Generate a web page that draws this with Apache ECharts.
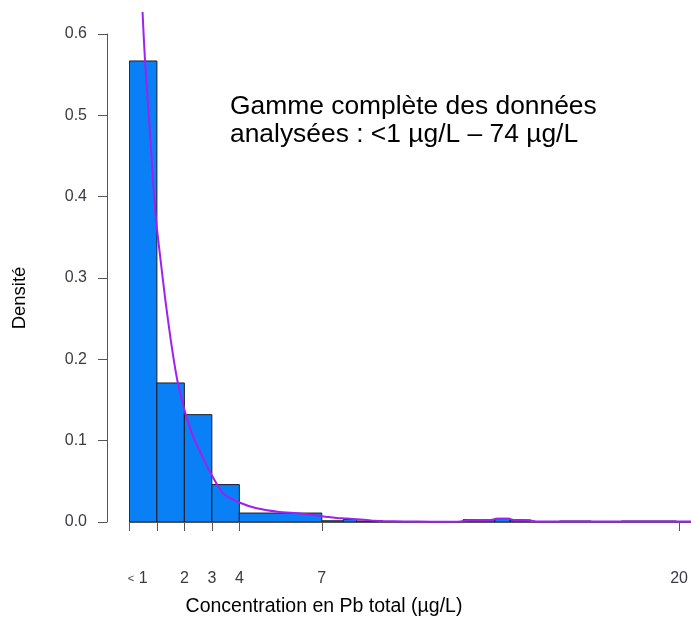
<!DOCTYPE html>
<html>
<head>
<meta charset="utf-8">
<script src="https://cdn.jsdelivr.net/npm/echarts@6/dist/echarts.min.js"></script>
<style>
  html, body { margin: 0; padding: 0; background: #fff; }
  #chart { width: 691px; height: 624px; }
</style>
</head>
<body>
<div id="chart"></div>
<script>
// Histogram bins (µg/L) and their densities
const binStart = [0, 1, 2, 3, 4, 7, 7.78, 8.27, 12.14, 13.3, 13.85, 15.65, 17.9, 19.9];
const binEnd   = [1, 2, 3, 4, 7, 7.78, 8.27, 9.23, 13.3, 13.85, 14.6, 16.8, 19.9, 22];
const binDensity = [0.567, 0.171, 0.132, 0.046, 0.011, 0.0015, 0.003, 0.0012, 0.0028, 0.0045, 0.0025, 0.0012, 0.0012, 0.0005];

// Fitted density curve
const curveX = [0.44, 0.48, 0.567, 0.75, 0.87, 0.97, 1.09, 1.3, 1.5, 1.74, 2.02, 2.32, 2.69, 2.99, 3.41, 4.0, 4.63, 5.4, 6.1, 6.6, 7.0, 7.4, 7.78, 8.27, 8.8, 9.23, 10, 11, 12, 12.3, 13.1, 13.4, 13.8, 14.0, 14.5, 14.8, 16, 18, 20.5];
const curveY = [0.67, 0.626, 0.568, 0.478, 0.412, 0.371, 0.335, 0.275, 0.225, 0.175, 0.136, 0.105, 0.078, 0.058, 0.035, 0.024, 0.017, 0.0127, 0.0107, 0.009, 0.0072, 0.0056, 0.0045, 0.0033, 0.002, 0.0012, 0.0006, 0.0004, 0.0005, 0.0022, 0.0025, 0.004, 0.004, 0.0025, 0.0022, 0.0006, 0.0005, 0.0005, 0.0005];

// Axis ticks
const xTickValues = [0, 1, 2, 3, 4, 7, 20];
const xLabelValues = [0.3, 2, 3, 4, 7, 20];
const xLabelTexts = ['{s|<} 1', '2', '3', '4', '7', '20'];

const FONT = "'Liberation Sans', Arial, sans-serif";
const AXIS_COLOR = '#555';
const LABEL_COLOR = '#3a3a44';

const bars = binStart.map((s, i) => [s, binEnd[i], binDensity[i]]);
const curve = curveX.map((x, i) => [x, curveY[i]]);

const chart = echarts.init(document.getElementById('chart'), null, { renderer: 'canvas' });

chart.setOption({
  animation: false,
  backgroundColor: '#fff',
  grid: [
    { left: 129.4, top: 13, width: 561.6, height: 509 },
    { left: 107, top: 34, width: 10, height: 488 }
  ],
  xAxis: [
    {
      gridIndex: 0, type: 'value', min: 0, max: 20.42,
      offset: 22.5,
      splitLine: { show: false },
      axisLine: { show: true, lineStyle: { color: AXIS_COLOR, width: 1 } },
      axisTick: { show: true, customValues: xTickValues, length: 9, lineStyle: { color: AXIS_COLOR } },
      axisLabel: {
        show: true, customValues: xLabelValues, margin: 26,
        color: LABEL_COLOR, fontFamily: FONT, fontSize: 16,
        formatter: function (v) {
          const i = xLabelValues.indexOf(v);
          return i >= 0 ? xLabelTexts[i] : '';
        },
        rich: { s: { fontSize: 11, fontFamily: FONT, color: LABEL_COLOR } }
      }
    },
    { gridIndex: 1, type: 'value', show: false, min: 0, max: 1 }
  ],
  yAxis: [
    { gridIndex: 0, type: 'value', min: 0, max: 0.626, show: false },
    {
      gridIndex: 1, type: 'value', min: 0, max: 0.6, interval: 0.1,
      splitLine: { show: false },
      axisLine: { show: true, lineStyle: { color: AXIS_COLOR, width: 1 } },
      axisTick: { show: true, length: 9, lineStyle: { color: AXIS_COLOR } },
      axisLabel: {
        margin: 20, color: LABEL_COLOR, fontFamily: FONT, fontSize: 16,
        formatter: v => v.toFixed(1)
      }
    }
  ],
  series: [
    {
      type: 'custom',
      xAxisIndex: 0, yAxisIndex: 0,
      clip: true,
      data: bars,
      renderItem: function (params, api) {
        const p0 = api.coord([api.value(0), api.value(2)]);
        const p1 = api.coord([api.value(1), 0]);
        return {
          type: 'rect',
          shape: { x: p0[0], y: p0[1], width: p1[0] - p0[0], height: p1[1] - p0[1] },
          style: { fill: '#0a80f6', stroke: '#1c1c28', lineWidth: 1 }
        };
      },
      z: 2
    },
    {
      type: 'line',
      xAxisIndex: 0, yAxisIndex: 0,
      data: curve,
      showSymbol: false,
      clip: true,
      smooth: 0.2,
      lineStyle: { color: '#a020f0', width: 2 },
      z: 3
    }
  ],
  graphic: [
    {
      type: 'text', left: 230, top: 94,
      style: { text: 'Gamme complète des données', font: "26.4px 'Liberation Sans', Arial, sans-serif", fill: '#000' }
    },
    {
      type: 'text', left: 230, top: 122,
      style: { text: 'analysées : <1 µg/L – 74 µg/L', font: "26.4px 'Liberation Sans', Arial, sans-serif", fill: '#000' }
    },
    {
      type: 'text', x: 324, y: 607,
      style: { text: 'Concentration en Pb total (µg/L)', font: "19.5px 'Liberation Sans', Arial, sans-serif", fill: '#000', align: 'center', verticalAlign: 'middle' }
    },
    {
      type: 'text', x: 20, y: 298, rotation: Math.PI / 2,
      style: { text: 'Densité', font: "18.5px 'Liberation Sans', Arial, sans-serif", fill: '#000', align: 'center', verticalAlign: 'middle' }
    }
  ]
});
</script>
</body>
</html>
